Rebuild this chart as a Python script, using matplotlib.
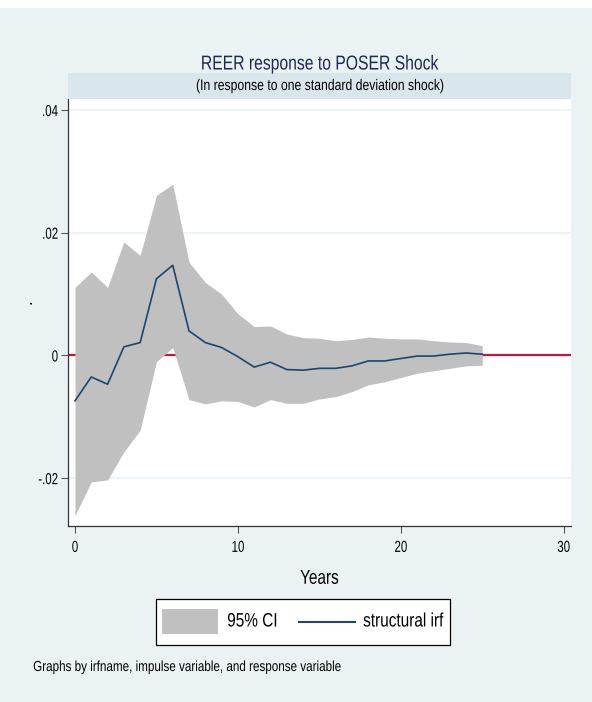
'''
REER response to POSER shock: structural IRF with 95% CI
'''
import matplotlib.pyplot as plt
from matplotlib.patheffects import AbstractPathEffect
from matplotlib.transforms import Affine2D
from matplotlib.patches import Rectangle
from matplotlib.lines import Line2D

# data ----------------------------------------------------
years = list(range(26))
irf = [-0.0074, -0.0035, -0.0047, 0.0014, 0.0021, 0.0125, 0.0147, 0.0040,
       0.0021, 0.0013, -0.0002, -0.0019, -0.0011, -0.0023, -0.0024, -0.0021,
       -0.0021, -0.0017, -0.0009, -0.0009, -0.0005, -0.0001, -0.0001, 0.0002,
       0.0004, 0.0002]
ci_upper = [0.0111, 0.0136, 0.0111, 0.0185, 0.0163, 0.0261, 0.0279, 0.0152,
            0.0119, 0.0100, 0.0068, 0.0047, 0.0048, 0.0035, 0.0029, 0.0028,
            0.0024, 0.0026, 0.0030, 0.0028, 0.0027, 0.0027, 0.0024, 0.0022,
            0.0021, 0.0016]
ci_lower = [-0.0261, -0.0206, -0.0203, -0.0157, -0.0122, -0.0010, 0.0013,
            -0.0072, -0.0079, -0.0074, -0.0075, -0.0084, -0.0072, -0.0078,
            -0.0078, -0.0071, -0.0067, -0.0059, -0.0048, -0.0043, -0.0036,
            -0.0029, -0.0025, -0.0021, -0.0017, -0.0016]
yticks = [-0.02, 0, 0.02, 0.04]
ytick_labels = ['-.02', '0', '.02', '.04']
xticks = [0, 10, 20, 30]


# narrow text (Stata draws a condensed Helvetica) ----------
class Narrow(AbstractPathEffect):
    def __init__(self, sx=0.8, anchor='center'):
        super().__init__()
        self.sx = sx
        self.anchor = anchor

    def draw_path(self, renderer, gc, tpath, affine, rgbFace=None):
        ext = tpath.get_extents(affine)
        if self.anchor == 'left':
            cx = ext.x0
        elif self.anchor == 'right':
            cx = ext.x1
        else:
            cx = (ext.x0 + ext.x1) / 2
        new = affine + Affine2D().translate(-cx, 0).scale(self.sx, 1).translate(cx, 0)
        renderer.draw_path(gc, tpath, new, rgbFace)


def narrow(anchor='center', sx=0.8):
    return [Narrow(sx, anchor)]


# style ---------------------------------------------------
plt.rcParams['font.family'] = ['Liberation Sans', 'DejaVu Sans']
bg = '#EAF2F3'
strip = '#D9E6EC'
ci_col = '#C0C0C0'
irf_col = '#1A476F'

fig = plt.figure(figsize=(5.92, 7.02), dpi=100, facecolor='white')
# outer graph region (white border on top)
fig.patches.append(Rectangle((0, 0), 1, 1 - 8 / 702, transform=fig.transFigure,
                             facecolor=bg, edgecolor='none', zorder=-10))

ax = fig.add_axes([68 / 592, 1 - 526 / 702, (571 - 68) / 592, (526 - 99) / 702])
ax.set_facecolor('white')

# grid lines
for yv in yticks:
    ax.axhline(yv, color=bg, lw=1.2, zorder=0)

# zero line
ax.axhline(0, color='#C8143C', lw=1.6, zorder=1)

# CI band and irf
ax.fill_between(years, ci_lower, ci_upper, color=ci_col, lw=0, zorder=2)
ax.plot(years, irf, color=irf_col, lw=1.2, zorder=3)

ax.set_xlim(-0.43, 30.45)
ax.set_ylim(-0.0278, 0.0418)
ax.set_xticks(xticks)
ax.set_yticks(yticks)
ax.set_yticklabels(ytick_labels)
ax.tick_params(axis='both', direction='out', length=5, width=0.8,
               labelsize=11.5, color='#555555')
ax.tick_params(axis='x', pad=5)
ax.tick_params(axis='y', pad=2)
for lab in ax.get_xticklabels():
    lab.set_path_effects(narrow('center', 0.72))
for lab in ax.get_yticklabels():
    lab.set_path_effects(narrow('right', 0.72))
for side in ['top', 'right']:
    ax.spines[side].set_visible(False)
for side in ['left', 'bottom']:
    ax.spines[side].set_color('#333333')
    ax.spines[side].set_linewidth(0.9)

ax.set_xlabel('Years', fontsize=14.5, labelpad=10,
              path_effects=narrow('center', 0.76))

# subtitle strip
sax = fig.add_axes([68 / 592, 1 - 99 / 702, (571 - 68) / 592, 26 / 702])
sax.set_facecolor(strip)
sax.set_xticks([])
sax.set_yticks([])
for s in sax.spines.values():
    s.set_visible(False)
sax.text(0.5, 0.5, '(In response to one standard deviation shock)',
         ha='center', va='center', fontsize=11, transform=sax.transAxes,
         path_effects=narrow())

# titles
fig.text((68 + 571) / 2 / 592, 1 - 64 / 702, 'REER response to POSER Shock',
         ha='center', va='center', fontsize=14.5, color='#1E2A50',
         path_effects=narrow('center', 0.78))
fig.text(27 / 592, 1 - 302 / 702, '.', ha='center', va='center', fontsize=12,
         rotation=90)

# legend (drawn by hand so the narrow text fits the box)
tf = fig.transFigure
fig.patches.append(Rectangle((156 / 592, 1 - 645 / 702), 294 / 592, 46 / 702,
                             transform=tf, facecolor='white',
                             edgecolor='black', lw=0.9))
fig.patches.append(Rectangle((162 / 592, 1 - 634 / 702), 56 / 592, 25 / 702,
                             transform=tf, facecolor=ci_col, edgecolor='none'))
fig.lines.append(Line2D([299 / 592, 355 / 592], [1 - 622 / 702, 1 - 622 / 702],
                        transform=tf, color=irf_col, lw=1.5))
fig.text(227 / 592, 1 - 622 / 702, '95% CI', ha='left', va='center',
         fontsize=14, path_effects=narrow('left', 0.79))
fig.text(363 / 592, 1 - 622 / 702, 'structural irf', ha='left', va='center',
         fontsize=14, path_effects=narrow('left', 0.79))

# note
fig.text(33 / 592, 1 - 667 / 702,
         'Graphs by irfname, impulse variable, and response variable',
         ha='left', va='center', fontsize=10.5, path_effects=narrow('left'))

fig.savefig('out.png', dpi=100, facecolor=fig.get_facecolor())
